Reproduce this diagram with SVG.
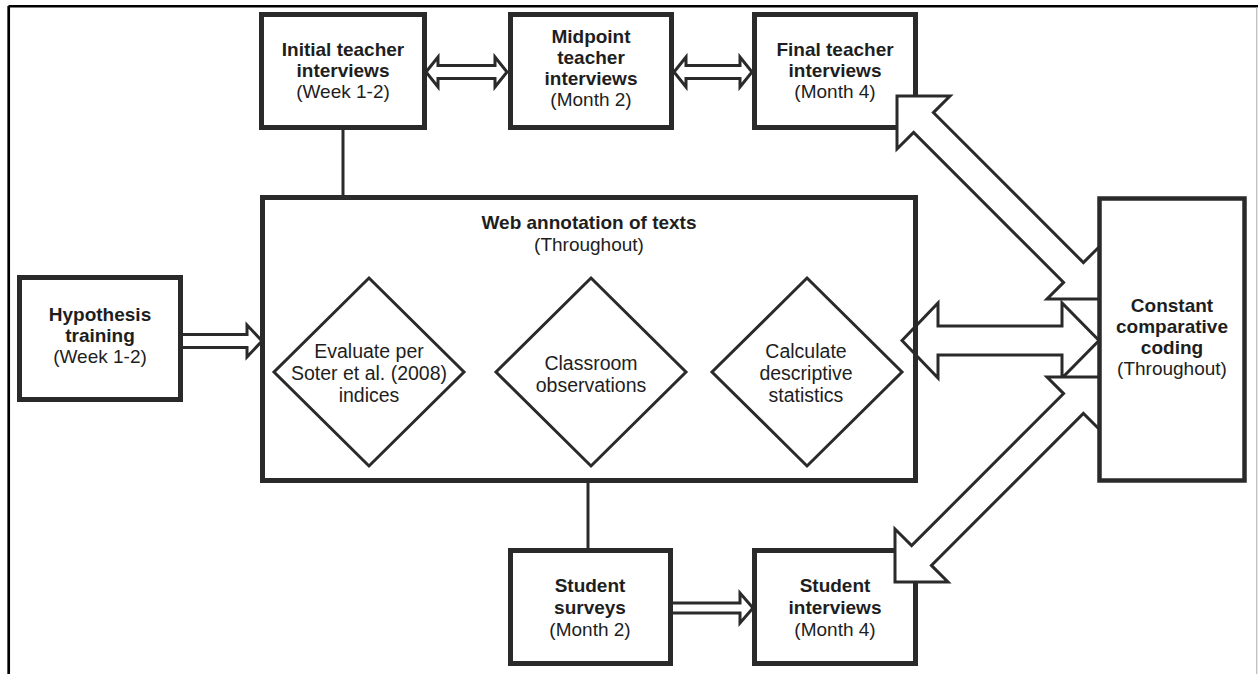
<svg xmlns="http://www.w3.org/2000/svg" width="1258" height="674" viewBox="0 0 1258 674">
<style>
  .box { fill: #ffffff; stroke: #2a2a2a; stroke-width: 5; }
  .dia { fill: #ffffff; stroke: #2a2a2a; stroke-width: 3; }
  .line { stroke: #2a2a2a; stroke-width: 3; fill: none; }
  .arr { fill: #ffffff; stroke: #2a2a2a; stroke-width: 3; stroke-linejoin: miter; }
  .arrn { fill: none; stroke: #2a2a2a; stroke-width: 3; stroke-linejoin: miter; }
  text { font-family: "Liberation Sans", Arial, sans-serif; font-size: 19px; fill: #1e1e1e; text-anchor: middle; }
  .b { font-weight: bold; }
  .d { font-size: 19.5px; }
</style>
<rect x="0" y="0" width="1258" height="674" fill="#ffffff"/>
<g id="frame">
  <line x1="8.5" y1="6.2" x2="1258" y2="6.2" stroke="#000" stroke-width="2.6"/>
  <line x1="8.7" y1="6" x2="8.7" y2="674" stroke="#000" stroke-width="2.7"/>
  <line x1="1256.8" y1="7" x2="1256.8" y2="674" stroke="#aaaaaa" stroke-width="1"/>
</g>
<g id="node-initial">
  <rect class="box" x="261.5" y="14.5" width="163" height="113"/>
  <text class="b" x="343" y="56">Initial teacher</text>
  <text class="b" x="343" y="77">interviews</text>
  <text x="343" y="98">(Week 1-2)</text>
</g>
<g id="node-midpoint">
  <rect class="box" x="510.5" y="14.5" width="161" height="113"/>
  <text class="b" x="591" y="43">Midpoint</text>
  <text class="b" x="591" y="64">teacher</text>
  <text class="b" x="591" y="85">interviews</text>
  <text x="591" y="106">(Month 2)</text>
</g>
<g id="node-final">
  <rect class="box" x="754.5" y="14.5" width="161" height="113"/>
  <text class="b" x="835" y="56">Final teacher</text>
  <text class="b" x="835" y="77">interviews</text>
  <text x="835" y="98">(Month 4)</text>
</g>
<g id="node-hypothesis">
  <rect class="box" x="19.5" y="277.5" width="161" height="122"/>
  <text class="b" x="100" y="321">Hypothesis</text>
  <text class="b" x="100" y="342">training</text>
  <text x="100" y="363">(Week 1-2)</text>
</g>
<g id="node-web">
  <rect class="box" x="262.5" y="197.5" width="653" height="283"/>
  <text class="b" x="589" y="229">Web annotation of texts</text>
  <text x="589" y="251">(Throughout)</text>
</g>
<g id="node-evaluate">
  <polygon class="dia" points="369,278 464,372 369,466 274,372"/>
  <text class="d" x="369" y="358">Evaluate per</text>
  <text class="d" x="369" y="380">Soter et al. (2008)</text>
  <text class="d" x="369" y="402">indices</text>
</g>
<g id="node-classroom">
  <polygon class="dia" points="591,278 686,372 591,466 496,372"/>
  <text class="d" x="591" y="370">Classroom</text>
  <text class="d" x="591" y="392">observations</text>
</g>
<g id="node-calculate">
  <polygon class="dia" points="807,278 902,372 807,466 712,372"/>
  <text class="d" x="806" y="358">Calculate</text>
  <text class="d" x="806" y="380">descriptive</text>
  <text class="d" x="806" y="402">statistics</text>
</g>
<g id="node-surveys">
  <rect class="box" x="510.5" y="550.5" width="160" height="113"/>
  <text class="b" x="590" y="592">Student</text>
  <text class="b" x="590" y="614">surveys</text>
  <text x="590" y="636">(Month 2)</text>
</g>
<g id="node-interviews">
  <rect class="box" x="754.5" y="550.5" width="161" height="113"/>
  <text class="b" x="835" y="592">Student</text>
  <text class="b" x="835" y="614">interviews</text>
  <text x="835" y="636">(Month 4)</text>
</g>
<g id="connectors">
  <line class="line" x1="343" y1="130" x2="343" y2="195"/>
  <line class="line" x1="588" y1="483" x2="588" y2="548"/>
  <polygon class="arr" points="426,72 438,57 438,65.5 495,65.5 495,57 507,72 495,87 495,78.5 438,78.5 438,87"/>
  <polygon class="arr" points="674,72 686,57 686,65.5 740,65.5 740,57 752,72 740,87 740,78.5 686,78.5 686,87"/>
  <polyline class="arrn" points="183,334.5 247,334.5 247,325 262,341 247,357 247,347.5 183,347.5"/>
  <polyline class="arrn" points="673,603 740,603 740,593 753,608 740,623 740,613 673,613"/>
  <polygon class="arrn" points="902,340.5 938,303 938,326 1062,326 1062,303 1099,340.5 1062,378 1062,355 938,355 938,378"/>
  <polygon class="arr" points="897,96 950,96 933.4,112.6 1083.4,262.6 1100,246 1100,299 1047,299 1063.6,282.4 913.6,132.4 897,149"/>
  <polygon class="arr" points="1100,377 1047,377 1063.6,393.6 911.6,545.6 895,529 895,582 948,582 931.4,565.4 1083.4,413.4 1100,430"/>
</g>
<g id="node-constant">
  <rect class="box" x="1099.5" y="198.5" width="145" height="282" style="stroke-width:4.5"/>
  <text class="b" x="1172" y="312">Constant</text>
  <text class="b" x="1172" y="333">comparative</text>
  <text class="b" x="1172" y="354">coding</text>
  <text x="1172" y="375">(Throughout)</text>
</g>
</svg>
